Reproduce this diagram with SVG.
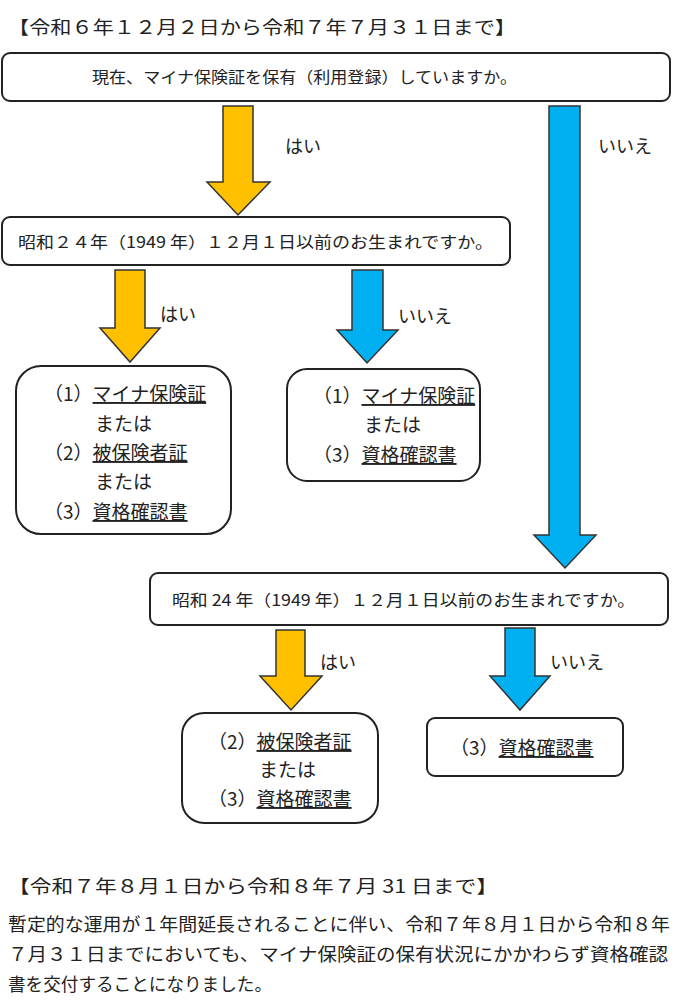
<svg xmlns="http://www.w3.org/2000/svg" width="676" height="1000" viewBox="0 0 676 1000">
<style>
text{font-family:"Noto Sans CJK JP","Liberation Sans",sans-serif;fill:#222}
.b{fill:#fff;stroke:#222;stroke-width:2}
.y{fill:#FFC000;stroke:#333;stroke-width:1.5}
.c{fill:#00B0F0;stroke:#333;stroke-width:1.5}
.t{font-size:16px}
.l{font-size:18px}
.m{font-size:19px}
.u{text-decoration:underline}
</style>
<rect width="676" height="1000" fill="#fff"/>
<text class="l" x="8" y="34" textLength="508" lengthAdjust="spacingAndGlyphs">【令和６年１２月２日から令和７年７月３１日まで】</text>
<g id="connectors">
<polygon class="y" points="223,106 253,106 253,182 270,182 238,215 207,182 223,182"/>
<polygon class="c" points="549,106 580,106 580,535 596,535 565,568 534,535 549,535"/>
<polygon class="y" points="115,270 145,270 145,328 160,328 130,362 100,328 115,328"/>
<polygon class="c" points="352,270 383,270 383,330 398,330 367,363 337,330 352,330"/>
<polygon class="y" points="276,630 305,630 305,676 322,676 291,710 260,676 276,676"/>
<polygon class="c" points="505,628 535,628 535,676 550,676 520,710 490,676 505,676"/>
<text class="l" x="285" y="153">はい</text>
<text class="l" x="598" y="153">いいえ</text>
<text class="l" x="160" y="321">はい</text>
<text class="l" x="398" y="323">いいえ</text>
<text class="l" x="320" y="669">はい</text>
<text class="l" x="550" y="669">いいえ</text>
</g>
<g id="q1"><rect class="b" x="2" y="53" width="668" height="48" rx="8"/>
<text class="t" x="92" y="83" textLength="425" lengthAdjust="spacingAndGlyphs">現在、マイナ保険証を保有（利用登録）していますか。</text></g>
<g id="q2"><rect class="b" x="2" y="217" width="508" height="48" rx="8"/>
<text class="t" x="18" y="248" textLength="475" lengthAdjust="spacingAndGlyphs">昭和２４年（1949 年）１２月１日以前のお生まれですか。</text></g>
<g id="r1"><rect class="b" x="16" y="366" width="215" height="168" rx="25"/>
<text class="m" x="44" y="401">（1）<tspan class="u">マイナ保険証</tspan></text>
<text class="m" x="95" y="431">または</text>
<text class="m" x="44" y="460">（2）<tspan class="u">被保険者証</tspan></text>
<text class="m" x="95" y="489">または</text>
<text class="m" x="44" y="519">（3）<tspan class="u">資格確認書</tspan></text></g>
<g id="r2"><rect class="b" x="287" y="369" width="193" height="112" rx="20"/>
<text class="m" x="313" y="403">（1）<tspan class="u">マイナ保険証</tspan></text>
<text class="m" x="364" y="432">または</text>
<text class="m" x="313" y="462">（3）<tspan class="u">資格確認書</tspan></text></g>
<g id="q3"><rect class="b" x="150" y="573" width="518" height="52" rx="8"/>
<text class="t" x="172" y="606" textLength="463" lengthAdjust="spacingAndGlyphs">昭和 24 年（1949 年）１２月１日以前のお生まれですか。</text></g>
<g id="r3"><rect class="b" x="182" y="713" width="196" height="110" rx="22"/>
<text class="m" x="208" y="749">（2）<tspan class="u">被保険者証</tspan></text>
<text class="m" x="259" y="777">または</text>
<text class="m" x="208" y="806">（3）<tspan class="u">資格確認書</tspan></text></g>
<g id="r4"><rect class="b" x="427" y="718" width="196" height="58" rx="8"/>
<text class="m" x="450" y="755">（3）<tspan class="u">資格確認書</tspan></text></g>
<text class="l" x="8" y="893" textLength="490" lengthAdjust="spacingAndGlyphs">【令和７年８月１日から令和８年７月 31 日まで】</text>
<text class="l" x="8" y="931" textLength="662" lengthAdjust="spacingAndGlyphs">暫定的な運用が１年間延長されることに伴い、令和７年８月１日から令和８年</text>
<text class="l" x="8" y="961" textLength="660" lengthAdjust="spacingAndGlyphs">７月３１日までにおいても、マイナ保険証の保有状況にかかわらず資格確認</text>
<text class="l" x="8" y="991" textLength="264" lengthAdjust="spacingAndGlyphs">書を交付することになりました。</text>
</svg>
